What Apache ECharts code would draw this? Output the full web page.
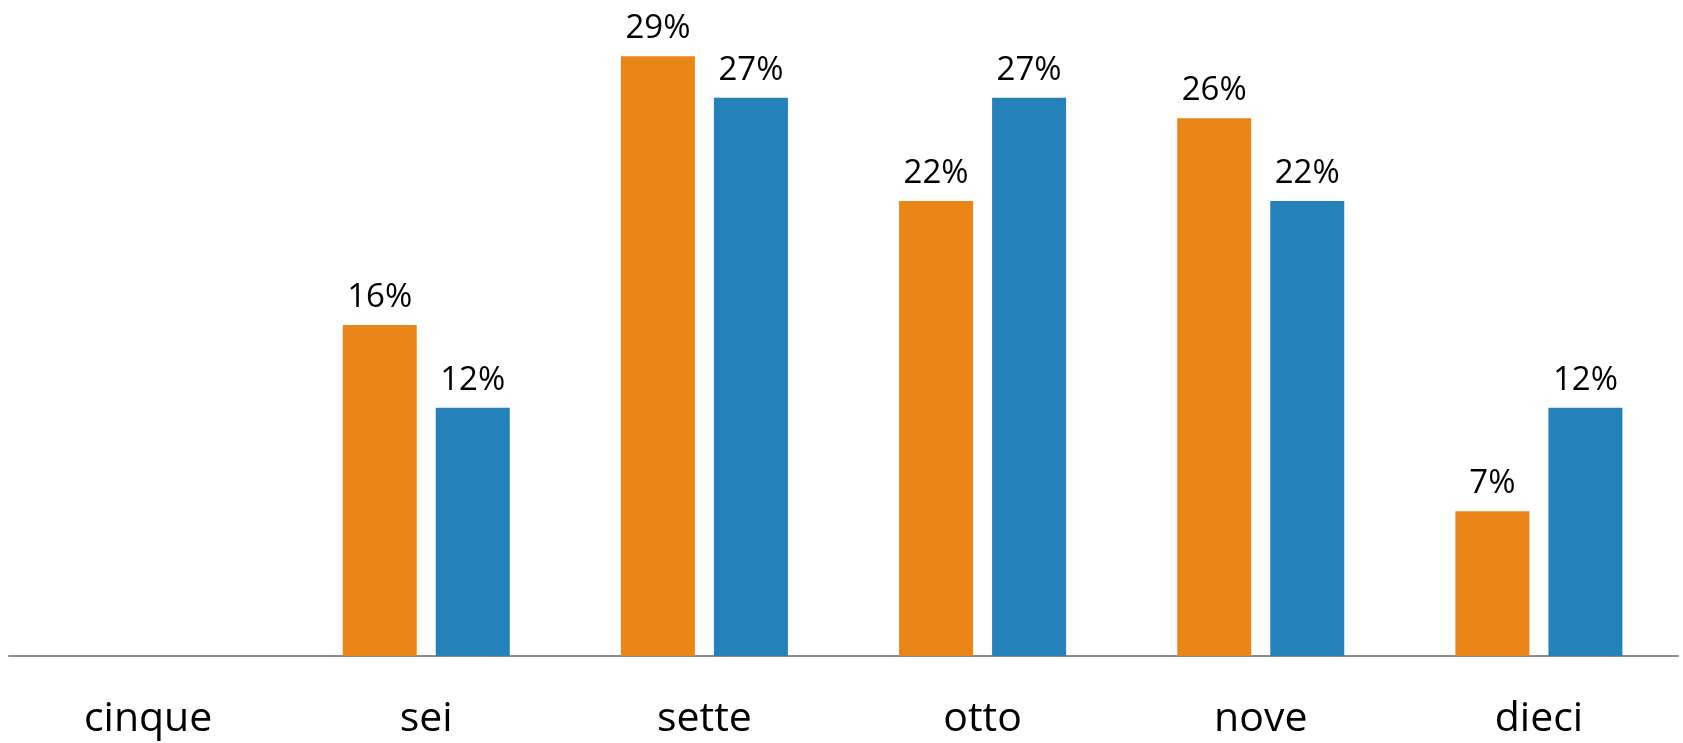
<!DOCTYPE html>
<html>
<head>
<meta charset="utf-8">
<script src="https://cdn.jsdelivr.net/npm/echarts@6/dist/echarts.min.js"></script>
<style>
html,body{margin:0;padding:0;background:#fff;}
#c{width:1683px;height:743px;}
</style>
</head>
<body>
<div id="c"></div>
<script>
const categories = ['cinque', 'sei', 'sette', 'otto', 'nove', 'dieci'];
const seriesOrange = [null, 16, 29, 22, 26, 7];
const seriesBlue = [null, 12, 27, 27, 22, 12];

const chart = echarts.init(document.getElementById('c'));
const labelStyle = {
  show: true,
  position: 'top',
  distance: 11,
  formatter: p => p.value + '%',
  fontFamily: 'Open Sans',
  fontSize: 33,
  color: '#000'
};
chart.setOption({
  animation: false,
  grid: { left: 9, right: 5, top: 35.6, bottom: 87, containLabel: false },
  xAxis: {
    type: 'category',
    data: categories,
    axisLine: { lineStyle: { color: '#8c8c8c', width: 2 } },
    axisTick: { show: false },
    axisLabel: { fontFamily: 'Open Sans', fontSize: 41, color: '#000', margin: 43 }
  },
  yAxis: {
    type: 'value', min: 0, max: 30, interval: 5,
    show: false
  },
  series: [
    { type: 'bar', data: seriesOrange, barWidth: 74, barGap: '25.7%',
      itemStyle: { color: '#EA8618' }, label: labelStyle },
    { type: 'bar', data: seriesBlue, barWidth: 74, barGap: '25.7%',
      itemStyle: { color: '#2581BA' }, label: labelStyle }
  ]
});
</script>
</body>
</html>
